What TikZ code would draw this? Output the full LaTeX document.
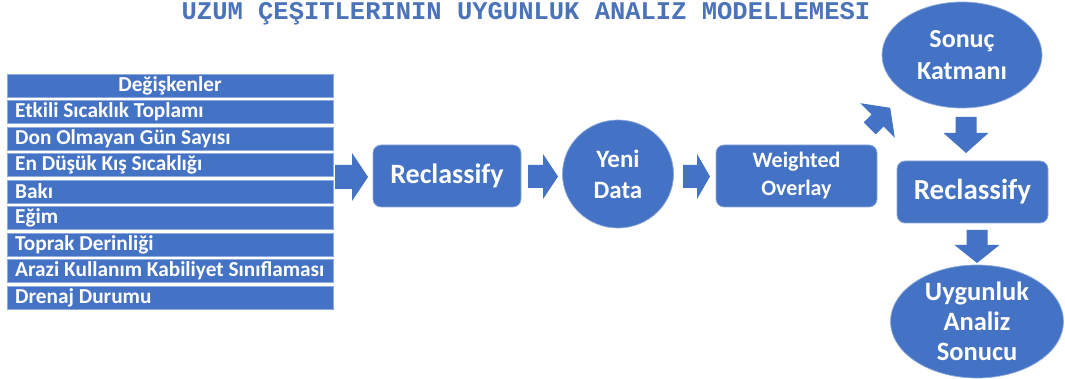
\documentclass[tikz,border=0pt]{standalone}
\usepackage{fontspec}
\setmainfont{Carlito}
\newfontfamily\titlefont{Liberation Mono}
\usetikzlibrary{shapes.geometric}
\definecolor{mblue}{HTML}{4472C4}
\definecolor{edgeblue}{HTML}{8FAADC}
\definecolor{titleblue}{HTML}{4A73BA}
\newcommand\harrow[6]{% x0 x1 xhead yc shafthalf headhalf
  \fill[mblue] (#1,#4-#5) -- (#3,#4-#5) -- (#3,#4-#6) -- (#2,#4) -- (#3,#4+#6) -- (#3,#4+#5) -- (#1,#4+#5) -- cycle;}
\newcommand\varrow[6]{% y0 y1 yhead xc shafthalf headhalf
  \fill[mblue] (#4-#5,#1) -- (#4-#5,#3) -- (#4-#6,#3) -- (#4,#2) -- (#4+#6,#3) -- (#4+#5,#3) -- (#4+#5,#1) -- cycle;}
\begin{document}
\begin{tikzpicture}[x=1pt,y=-1pt,
  rowbox/.style={rectangle, fill=mblue, draw=edgeblue, line width=0.7pt, minimum width=326pt, minimum height=23pt, inner sep=0pt},
  rowfont/.style={font=\bfseries\fontsize{21.3}{22}\selectfont},
  rowtext/.style={rowfont, text=white, anchor=west, inner sep=0pt},
  procbox/.style={rectangle, rounded corners=8pt, fill=mblue, draw=edgeblue, line width=0.7pt, text=white, align=center, inner sep=0pt},
  procell/.style={ellipse, fill=mblue, draw=edgeblue, line width=0.7pt, text=white, align=center, inner sep=0pt}
]
\useasboundingbox (0,0) rectangle (1065,379);
\fill[white] (0,0) rectangle (1065,379);

% title
\node[anchor=base, text=titleblue, inner sep=0pt, font=\titlefont\bfseries\fontsize{25.5}{26}\selectfont] (title) at (526,19.5) {UZUM ÇEŞITLERININ UYGUNLUK ANALIZ MODELLEMESI};

% table
\node[rowbox] (r0) at (170,85.5) {};
\node[rowfont, text=white, inner sep=0pt] (t0) at (170,85.5) {Değişkenler};
\foreach \i/\t in {1/Etkili Sıcaklık Toplamı, 2/Don Olmayan Gün Sayısı, 3/En Düşük Kış Sıcaklığı, 4/Bakı, 5/Eğim, 6/Toprak Derinliği, 7/Arazi Kullanım Kabiliyet Sınıflaması, 8/Drenaj Durumu}{
  \node[rowbox] (r\i) at (170,85.5+26.5*\i) {};
  \node[rowtext] (t\i) at (15,85.5+26.5*\i) {\t};
}

% process nodes
\node[procbox, minimum width=148pt, minimum height=62pt, font=\bfseries\fontsize{28}{30}\selectfont] (rc1) at (447,176) {Reclassify};
\node[procell, minimum width=111pt, minimum height=108pt, font=\bfseries\fontsize{25}{31}\selectfont] (yeni) at (618,174) {Yeni\\Data};
\node[procbox, minimum width=161pt, minimum height=62pt, font=\bfseries\fontsize{22}{28}\selectfont] (wo) at (796.5,176) {Weighted\\Overlay};
\node[procell, minimum width=160pt, minimum height=106pt, font=\bfseries\fontsize{26}{32}\selectfont] (sonuc) at (962,55) {Sonuç\\Katmanı};
\node[procbox, minimum width=151pt, minimum height=62pt, font=\bfseries\fontsize{29}{30}\selectfont] (rc2) at (972.5,192) {Reclassify};
\node[procell, minimum width=173pt, minimum height=113pt, font=\bfseries\fontsize{26.5}{30}\selectfont] (uygun) at (977,321.5) {Uygunluk\\Analiz\\Sonucu};

% block arrows
\harrow{335}{368}{352}{177}{12}{24}
\harrow{528}{558}{543}{176.5}{11.5}{22.5}
\harrow{683}{710}{697}{176.5}{11.5}{22.5}
\varrow{117}{153}{133}{966}{10.5}{22.5}
\varrow{230}{263}{245}{977}{10.5}{22.5}
% diagonal arrow (north-east)
\fill[mblue] (863.7,122.3) -- (871.5,114.5) -- (860.2,103.2) -- (890.2,107.8) -- (894.8,137.8) -- (883.5,126.5) -- (875.7,134.3) -- cycle;
\end{tikzpicture}
\end{document}
